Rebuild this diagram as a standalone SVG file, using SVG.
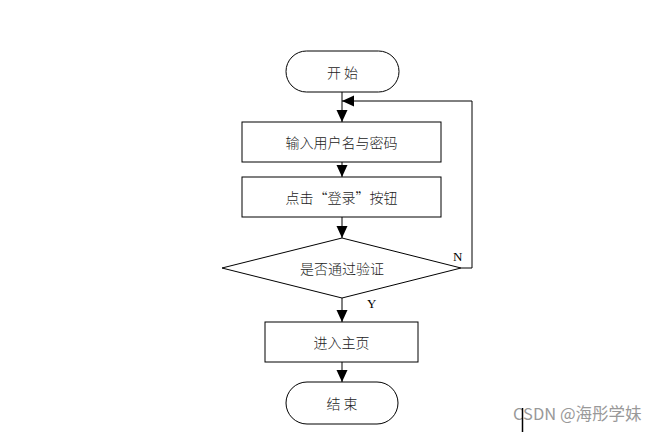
<svg xmlns="http://www.w3.org/2000/svg" width="664" height="432" viewBox="0 0 664 432">
<style>
.shape{fill:#fff;stroke:#000;stroke-width:1}
.lbl{font-family:"Noto Sans CJK SC",sans-serif;font-weight:300;font-size:14px;fill:#222;text-anchor:middle;dominant-baseline:central}
.q{font-feature-settings:"fwid" 1}
.yn{font-family:"Liberation Serif",serif;font-size:13px;fill:#000}
.conn{fill:none;stroke:#000;stroke-width:1}
</style>
<defs>
<marker id="arr" markerWidth="12" markerHeight="14" refX="12" refY="7" orient="auto" markerUnits="userSpaceOnUse">
<path d="M0,1.5 L12,7 L0,12.5 Z" fill="#000"/>
</marker>
</defs>
<rect width="664" height="432" fill="#fff"/>
<g id="connectors">
<line class="conn" x1="342" y1="92" x2="342" y2="122" marker-end="url(#arr)"/>
<line class="conn" x1="342" y1="162" x2="342" y2="177" marker-end="url(#arr)"/>
<line class="conn" x1="342" y1="217" x2="342" y2="238" marker-end="url(#arr)"/>
<line class="conn" x1="342" y1="298" x2="342" y2="322" marker-end="url(#arr)"/>
<line class="conn" x1="342" y1="362" x2="342" y2="382" marker-end="url(#arr)"/>
<polyline class="conn" points="461,268 472,268 472,101 342,101" marker-end="url(#arr)"/>
<text class="yn" x="453" y="261">N</text>
<text class="yn" x="367" y="308">Y</text>
</g>
<g id="start">
<rect class="shape" x="286" y="51" width="113" height="41" rx="20.5"/>
<text class="lbl" x="342.5" y="71.5">开 始</text>
</g>
<g id="input">
<rect class="shape" x="242" y="122" width="199" height="40"/>
<text class="lbl" x="341.5" y="142">输入用户名与密码</text>
</g>
<g id="login">
<rect class="shape" x="242" y="177" width="199" height="40"/>
<text class="lbl q" x="341.5" y="197">点击“登录”按钮</text>
</g>
<g id="verify">
<polygon class="shape" points="342,238 461,268 342,298 222,268"/>
<text class="lbl" x="342" y="268">是否通过验证</text>
</g>
<g id="home">
<rect class="shape" x="265" y="322" width="153" height="40"/>
<text class="lbl" x="341.5" y="342">进入主页</text>
</g>
<g id="end">
<rect class="shape" x="286" y="382" width="112" height="42" rx="21"/>
<text class="lbl" x="342" y="403">结 束</text>
</g>
<text x="513" y="420" font-family="'Noto Sans CJK SC',sans-serif" font-size="16.5" fill="#999">CSDN @海彤学妹</text>
<line x1="522.5" y1="408" x2="522.5" y2="432" stroke="#000" stroke-width="1.5"/>
</svg>
